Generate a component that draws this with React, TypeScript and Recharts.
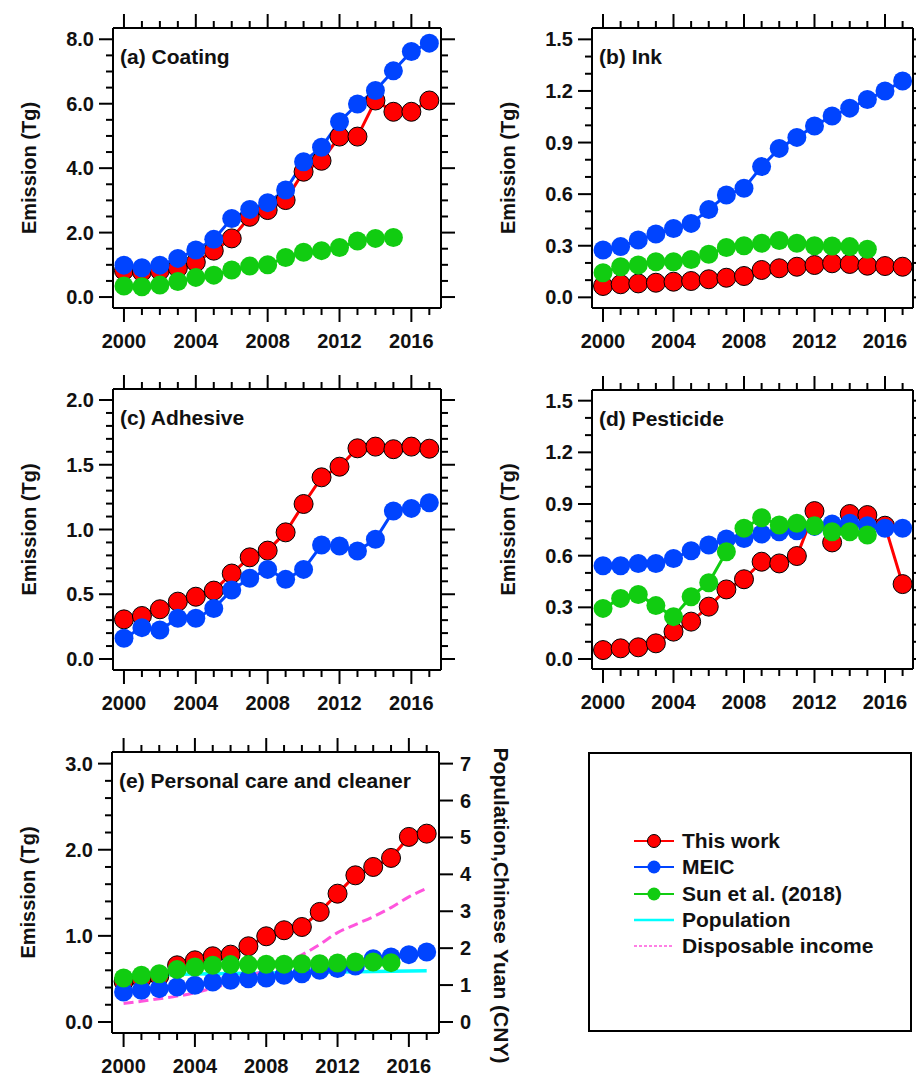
import { LineChart, Line, XAxis, YAxis, Legend } from 'recharts';

const FONT = '"Liberation Sans", Arial, Helvetica, sans-serif';
const RED = '#ff0000';
const BLUE = '#0044ff';
const GREEN = '#11cc11';
const CYAN = '#00ffff';
const PINK = '#ff55dd';

const years = [2000, 2001, 2002, 2003, 2004, 2005, 2006, 2007, 2008, 2009, 2010, 2011, 2012, 2013, 2014, 2015, 2016, 2017];
const yearLabels = [2000, 2004, 2008, 2012, 2016];

// (a) Coating
const coatingThisWork = [0.82, 0.78, 0.82, 0.9, 1.08, 1.44, 1.82, 2.49, 2.7, 3.01, 3.89, 4.23, 4.98, 4.98, 6.1, 5.75, 5.75, 6.1];
const coatingMEIC = [0.99, 0.91, 0.99, 1.2, 1.46, 1.79, 2.44, 2.72, 2.93, 3.32, 4.2, 4.65, 5.44, 5.99, 6.41, 7.02, 7.62, 7.88];
const coatingSun = [0.34, 0.32, 0.37, 0.48, 0.61, 0.68, 0.84, 0.96, 1.0, 1.23, 1.39, 1.44, 1.54, 1.74, 1.82, 1.85];

// (b) Ink
const inkThisWork = [0.066, 0.076, 0.081, 0.085, 0.091, 0.095, 0.105, 0.114, 0.124, 0.159, 0.169, 0.178, 0.188, 0.198, 0.194, 0.184, 0.182, 0.178];
const inkMEIC = [0.275, 0.295, 0.333, 0.368, 0.4, 0.43, 0.51, 0.595, 0.634, 0.76, 0.866, 0.93, 0.996, 1.054, 1.1, 1.15, 1.2, 1.258];
const inkSun = [0.143, 0.178, 0.188, 0.207, 0.207, 0.22, 0.25, 0.29, 0.3, 0.314, 0.33, 0.314, 0.3, 0.298, 0.295, 0.28];

// (c) Adhesive
const adhesiveThisWork = [0.306, 0.332, 0.384, 0.443, 0.481, 0.528, 0.66, 0.785, 0.837, 0.978, 1.197, 1.403, 1.485, 1.627, 1.64, 1.62, 1.64, 1.624];
const adhesiveMEIC = [0.16, 0.242, 0.224, 0.314, 0.314, 0.39, 0.533, 0.623, 0.692, 0.615, 0.692, 0.88, 0.873, 0.834, 0.924, 1.143, 1.163, 1.207];

// (d) Pesticide
const pesticideThisWork = [0.052, 0.062, 0.068, 0.091, 0.159, 0.217, 0.304, 0.404, 0.463, 0.565, 0.555, 0.598, 0.859, 0.677, 0.842, 0.836, 0.774, 0.435];
const pesticideMEIC = [0.542, 0.542, 0.555, 0.555, 0.584, 0.629, 0.662, 0.697, 0.7, 0.726, 0.739, 0.745, 0.77, 0.784, 0.788, 0.774, 0.759, 0.759];
const pesticideSun = [0.294, 0.352, 0.375, 0.31, 0.246, 0.362, 0.443, 0.623, 0.759, 0.82, 0.778, 0.788, 0.774, 0.739, 0.739, 0.72];

// (e) Personal care and cleaner
const personalThisWork = [0.47, 0.5, 0.53, 0.658, 0.716, 0.763, 0.782, 0.879, 0.995, 1.065, 1.103, 1.278, 1.49, 1.703, 1.8, 1.905, 2.149, 2.187];
const personalMEIC = [0.348, 0.368, 0.387, 0.406, 0.426, 0.465, 0.484, 0.503, 0.51, 0.542, 0.561, 0.6, 0.62, 0.65, 0.735, 0.755, 0.782, 0.813];
const personalSun = [0.511, 0.542, 0.561, 0.608, 0.639, 0.658, 0.666, 0.666, 0.67, 0.67, 0.677, 0.677, 0.685, 0.697, 0.697, 0.689];
const population = [1.267, 1.276, 1.285, 1.292, 1.3, 1.308, 1.314, 1.321, 1.328, 1.335, 1.341, 1.347, 1.354, 1.361, 1.368, 1.375, 1.383, 1.39];
const disposableIncome = [0.5, 0.56, 0.63, 0.7, 0.79, 0.92, 1.06, 1.22, 1.42, 1.6, 1.82, 2.1, 2.42, 2.64, 2.85, 3.1, 3.39, 3.62];

const legendOrder = ['This work', 'MEIC', 'Sun et al. (2018)', 'Population', 'Disposable income'];

// y ticks (minor + major) per panel
const ticksA = [0, 0.5, 1, 1.5, 2, 2.5, 3, 3.5, 4, 4.5, 5, 5.5, 6, 6.5, 7, 7.5, 8];
const majorsA = [0, 2, 4, 6, 8];
const ticksB = [0, 0.1, 0.2, 0.3, 0.4, 0.5, 0.6, 0.7, 0.8, 0.9, 1, 1.1, 1.2, 1.3, 1.4, 1.5];
const majorsB = [0, 0.3, 0.6, 0.9, 1.2, 1.5];
const ticksC = [0, 0.1, 0.2, 0.3, 0.4, 0.5, 0.6, 0.7, 0.8, 0.9, 1, 1.1, 1.2, 1.3, 1.4, 1.5, 1.6, 1.7, 1.8, 1.9, 2];
const majorsC = [0, 0.5, 1, 1.5, 2];
const ticksE = [0, 0.2, 0.4, 0.6, 0.8, 1, 1.2, 1.4, 1.6, 1.8, 2, 2.2, 2.4, 2.6, 2.8, 3];
const majorsE = [0, 1, 2, 3];
const ticksERight = [0, 1, 2, 3, 4, 5, 6, 7];

function rows(cols: Record<string, number[]>) {
  return years.map((year, i) => {
    const row: Record<string, number | null> = { year };
    for (const k of Object.keys(cols)) row[k] = cols[k][i] ?? null;
    return row;
  });
}

const txt = { fontFamily: FONT, fontWeight: 'bold' as const, fill: '#111' };

const bottomTick = (p: any) => {
  const v = p.payload.value;
  const major = yearLabels.includes(v);
  return (
    <g>
      <line x1={p.x} x2={p.x} y1={p.y} y2={p.y + (major ? 14 : 7)} stroke="#000" strokeWidth={2} />
      {major && <text x={p.x} y={p.y + 40} textAnchor="middle" fontSize={20} {...txt}>{v}</text>}
    </g>
  );
};

const topTick = (p: any) => {
  const major = yearLabels.includes(p.payload.value);
  return <line x1={p.x} x2={p.x} y1={p.y} y2={p.y - (major ? 14 : 7)} stroke="#000" strokeWidth={2} />;
};

const leftTick = (majors: number[], decimals: number) => (p: any) => {
  const v = p.payload.value;
  const major = majors.includes(v);
  return (
    <g>
      <line x1={p.x} x2={p.x - (major ? 14 : 7)} y1={p.y} y2={p.y} stroke="#000" strokeWidth={2} />
      {major && <text x={p.x - 19} y={p.y + 7} textAnchor="end" fontSize={20} {...txt}>{v.toFixed(decimals)}</text>}
    </g>
  );
};

const rightTick = (majors: number[]) => (p: any) => {
  const major = majors.includes(p.payload.value);
  return <line x1={p.x} x2={p.x + (major ? 14 : 7)} y1={p.y} y2={p.y} stroke="#000" strokeWidth={2} />;
};

const rightLabelTick = (p: any) => (
  <g>
    <line x1={p.x} x2={p.x + 14} y1={p.y} y2={p.y} stroke="#000" strokeWidth={2} />
    <text x={p.x + 21} y={p.y + 7} textAnchor="start" fontSize={20} {...txt}>{p.payload.value}</text>
  </g>
);

const axisLine = { stroke: '#000', strokeWidth: 2 };

const legendStyles: Record<string, { dot: boolean; dash?: string; width: number; outline?: boolean }> = {
  'This work': { dot: true, width: 2, outline: true },
  MEIC: { dot: true, width: 2 },
  'Sun et al. (2018)': { dot: true, width: 2 },
  Population: { dot: false, width: 2.5 },
  'Disposable income': { dot: false, width: 1.5, dash: '3 2' },
};

const renderLegend = (props: any) => {
  const items = [...(props.payload || [])].sort(
    (a: any, b: any) => legendOrder.indexOf(a.value) - legendOrder.indexOf(b.value)
  );
  return (
    <div style={{ position: 'relative', width: 324, height: 280, border: '2px solid #000', boxSizing: 'border-box', background: '#fff' }}>
      {items.map((entry: any, i: number) => {
        const s = legendStyles[entry.value] || { dot: false, width: 2 };
        return (
          <div key={entry.value} style={{ position: 'absolute', left: 43, top: 74 + i * 26.3, height: 26, display: 'flex', alignItems: 'center' }}>
            <svg width={42} height={26}>
              <line x1={1} x2={41} y1={13} y2={13} stroke={entry.color} strokeWidth={s.width} strokeDasharray={s.dash} />
              {s.dot && <circle cx={21} cy={13} r={6.5} fill={entry.color} stroke={s.outline ? '#000' : 'none'} strokeWidth={1} />}
            </svg>
            <span style={{ marginLeft: 7, fontFamily: FONT, fontWeight: 'bold', fontSize: 21, color: '#111', whiteSpace: 'nowrap' }}>{entry.value}</span>
          </div>
        );
      })}
    </div>
  );
};

type Box = { l: number; t: number; r: number; b: number };

type PanelProps = {
  left: number;
  top: number;
  width: number;
  height: number;
  box: Box; // plot frame, relative to the panel
  xDomain: [number, number];
  yDomain: [number, number];
  yTicks: number[];
  yMajors: number[];
  decimals: number;
  title: string;
  data: any[];
  sun: boolean;
  personal?: boolean;
};

function Panel(props: PanelProps) {
  const { box, width, height } = props;
  // axes are 1px thick, so margins sit one pixel outside the frame
  const margin = { top: box.t - 1, left: box.l - 1, right: width - box.r - 1, bottom: height - box.b - 1 };
  const midY = (box.t + box.b) / 2;
  return (
    <div style={{ position: 'absolute', left: props.left, top: props.top }}>
      <LineChart width={width} height={height} data={props.data} margin={margin}>
        <XAxis
          dataKey="year"
          type="number"
          domain={props.xDomain}
          ticks={years}
          interval={0}
          allowDataOverflow
          height={1}
          tickSize={0}
          tickMargin={0}
          tickLine={false}
          axisLine={axisLine}
          tick={bottomTick}
        />
        <XAxis
          xAxisId="top"
          orientation="top"
          dataKey="year"
          type="number"
          domain={props.xDomain}
          ticks={years}
          interval={0}
          allowDataOverflow
          height={1}
          tickSize={0}
          tickMargin={0}
          tickLine={false}
          axisLine={axisLine}
          tick={topTick}
          label={() => (
            <text x={box.l + 7} y={box.t + 36} fontSize={21} {...txt}>{props.title}</text>
          )}
        />
        <YAxis
          type="number"
          domain={props.yDomain}
          ticks={props.yTicks}
          interval={0}
          allowDataOverflow
          width={1}
          tickSize={0}
          tickMargin={0}
          tickLine={false}
          axisLine={axisLine}
          tick={leftTick(props.yMajors, props.decimals)}
          label={() => (
            <text
              x={box.l - 84}
              y={midY}
              textAnchor="middle"
              dominantBaseline="central"
              fontSize={20}
              transform={`rotate(-90 ${box.l - 84} ${midY})`}
              {...txt}
            >
              Emission (Tg)
            </text>
          )}
        />
        {props.personal ? (
          <YAxis
            yAxisId="r"
            orientation="right"
            type="number"
            domain={[(props.yDomain[0] * 7) / 3, (props.yDomain[1] * 7) / 3]}
            ticks={ticksERight}
            interval={0}
            allowDataOverflow
            width={1}
            tickSize={0}
            tickMargin={0}
            tickLine={false}
            axisLine={axisLine}
            tick={rightLabelTick}
            label={() => (
              <text
                x={box.r + 62}
                y={midY + 13}
                textAnchor="middle"
                dominantBaseline="central"
                fontSize={21}
                transform={`rotate(90 ${box.r + 62} ${midY + 13})`}
                {...txt}
              >
                Population,Chinese Yuan (CNY)
              </text>
            )}
          />
        ) : (
          <YAxis
            yAxisId="r"
            orientation="right"
            type="number"
            domain={props.yDomain}
            ticks={props.yTicks}
            interval={0}
            allowDataOverflow
            width={1}
            tickSize={0}
            tickMargin={0}
            tickLine={false}
            axisLine={axisLine}
            tick={rightTick(props.yMajors)}
          />
        )}
        <Line
          dataKey="thisWork"
          name="This work"
          type="linear"
          stroke={RED}
          strokeWidth={3}
          dot={{ r: 9.5, fill: RED, stroke: '#000', strokeWidth: 1 }}
          isAnimationActive={false}
        />
        <Line
          dataKey="meic"
          name="MEIC"
          type="linear"
          stroke={BLUE}
          strokeWidth={3}
          dot={{ r: 9.5, fill: BLUE, stroke: 'none' }}
          isAnimationActive={false}
        />
        {props.sun && (
          <Line
            dataKey="sun"
            name="Sun et al. (2018)"
            type="linear"
            stroke={GREEN}
            strokeWidth={3}
            dot={{ r: 9.5, fill: GREEN, stroke: 'none' }}
            isAnimationActive={false}
          />
        )}
        {props.personal && (
          <Line
            dataKey="population"
            name="Population"
            yAxisId="r"
            type="linear"
            stroke={CYAN}
            strokeWidth={3.5}
            dot={false}
            isAnimationActive={false}
          />
        )}
        {props.personal && (
          <Line
            dataKey="income"
            name="Disposable income"
            yAxisId="r"
            type="monotone"
            stroke={PINK}
            strokeWidth={3}
            strokeDasharray="10 5"
            dot={false}
            isAnimationActive={false}
          />
        )}
        {props.personal && (
          <Legend
            layout="vertical"
            align="center"
            verticalAlign="middle"
            content={renderLegend}
            wrapperStyle={{ left: 588, top: 32, width: 324, height: 280 }}
          />
        )}
      </LineChart>
    </div>
  );
}

export default function App() {
  return (
    <div style={{ position: 'absolute', left: 0, top: 0, width: 916, height: 1081, background: '#fff', fontFamily: FONT }}>
      <Panel
        left={0}
        top={0}
        width={470}
        height={360}
        box={{ l: 113, t: 28, r: 441, b: 308 }}
        xDomain={[1999.39, 2017.65]}
        yDomain={[-0.34, 8.35]}
        yTicks={ticksA}
        yMajors={majorsA}
        decimals={1}
        title="(a) Coating"
        data={rows({ thisWork: coatingThisWork, meic: coatingMEIC, sun: coatingSun })}
        sun
      />
      <Panel
        left={470}
        top={0}
        width={446}
        height={360}
        box={{ l: 122, t: 28, r: 443, b: 308 }}
        xDomain={[1999.375, 2017.59]}
        yDomain={[-0.062, 1.566]}
        yTicks={ticksB}
        yMajors={majorsB}
        decimals={1}
        title="(b) Ink"
        data={rows({ thisWork: inkThisWork, meic: inkMEIC, sun: inkSun })}
        sun
      />
      <Panel
        left={0}
        top={360}
        width={470}
        height={360}
        box={{ l: 113, t: 29, r: 441, b: 310 }}
        xDomain={[1999.39, 2017.65]}
        yDomain={[-0.085, 2.085]}
        yTicks={ticksC}
        yMajors={majorsC}
        decimals={1}
        title="(c) Adhesive"
        data={rows({ thisWork: adhesiveThisWork, meic: adhesiveMEIC })}
        sun={false}
      />
      <Panel
        left={470}
        top={360}
        width={446}
        height={360}
        box={{ l: 122, t: 30, r: 443, b: 309 }}
        xDomain={[1999.375, 2017.59]}
        yDomain={[-0.058, 1.562]}
        yTicks={ticksB}
        yMajors={majorsB}
        decimals={1}
        title="(d) Pesticide"
        data={rows({ thisWork: pesticideThisWork, meic: pesticideMEIC, sun: pesticideSun })}
        sun
      />
      <Panel
        left={0}
        top={720}
        width={916}
        height={361}
        box={{ l: 112, t: 32, r: 439, b: 313 }}
        xDomain={[1999.35, 2017.69]}
        yDomain={[-0.128, 3.135]}
        yTicks={ticksE}
        yMajors={majorsE}
        decimals={1}
        title="(e) Personal care and cleaner"
        data={rows({
          thisWork: personalThisWork,
          meic: personalMEIC,
          sun: personalSun,
          population,
          income: disposableIncome,
        })}
        sun
        personal
      />
    </div>
  );
}
